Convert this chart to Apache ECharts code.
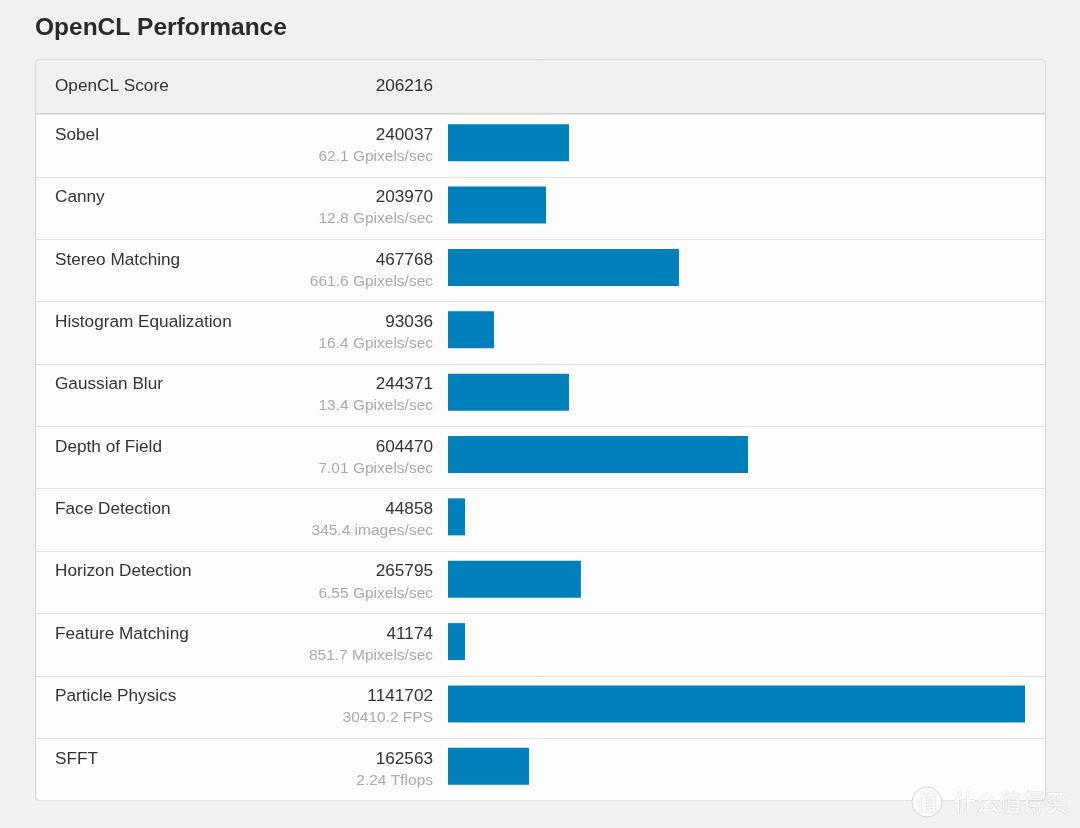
<!DOCTYPE html>
<html>
<head>
<meta charset="utf-8">
<title>OpenCL Performance</title>
<script src="https://cdn.jsdelivr.net/npm/echarts@6/dist/echarts.min.js"></script>
<style>
  html, body { margin: 0; padding: 0; background: #f1f1f1; }
  #chart { width: 1080px; height: 828px; }
</style>
</head>
<body>
<div id="chart"></div>
<script>
const tests = ['Sobel', 'Canny', 'Stereo Matching', 'Histogram Equalization', 'Gaussian Blur', 'Depth of Field',
    'Face Detection', 'Horizon Detection', 'Feature Matching', 'Particle Physics', 'SFFT'];
const scores = ['240037', '203970', '467768', '93036', '244371', '604470', '44858', '265795', '41174', '1141702', '162563'];
const rates = ['62.1 Gpixels/sec', '12.8 Gpixels/sec', '661.6 Gpixels/sec', '16.4 Gpixels/sec', '13.4 Gpixels/sec',
    '7.01 Gpixels/sec', '345.4 images/sec', '6.55 Gpixels/sec', '851.7 Mpixels/sec', '30410.2 FPS', '2.24 Tflops'];
// bar lengths as drawn in the picture, they do not follow the printed scores exactly
const barValues = [239400, 193900, 457000, 91000, 239400, 593600, 33600, 263000, 33600, 1141702, 160300];

const FONT = '"Liberation Sans", Arial, sans-serif';
const chart = echarts.init(document.getElementById('chart'));

chart.setOption({
    backgroundColor: '#f1f1f1',
    animation: false,
    title: {
        text: 'OpenCL Performance',
        left: 35,
        top: 16,
        padding: 0,
        textStyle: { fontFamily: FONT, fontSize: 24.5, fontWeight: 'bold', color: '#2b2b2b' }
    },
    graphic: [
        {
            type: 'rect', z: -10,
            shape: { x: 35.5, y: 59.5, width: 1010, height: 741, r: 4 },
            style: { fill: '#fdfdfd', stroke: '#d6d6d6', lineWidth: 1 }
        },
        {
            type: 'rect', z: -9,
            shape: { x: 36, y: 60, width: 1009, height: 54, r: [4, 4, 0, 0] },
            style: { fill: '#f0f0f0' }
        },
        {
            type: 'line', z: -8,
            shape: { x1: 36, y1: 114, x2: 1045, y2: 114 },
            style: { stroke: '#d4d4d4', lineWidth: 2 }
        },
        {
            type: 'text', z: 5, x: 55, y: 86,
            style: { text: 'OpenCL Score', fontFamily: FONT, fontSize: 17.2, fill: '#333', verticalAlign: 'middle' }
        },
        {
            type: 'text', z: 5, x: 433, y: 86,
            style: { text: '206216', fontFamily: FONT, fontSize: 17.2, fill: '#333', align: 'right', verticalAlign: 'middle' }
        },
        {
            type: 'circle', z: 19,
            shape: { cx: 927, cy: 802, r: 15 },
            style: { fill: 'rgba(255,255,255,0.75)', stroke: '#d4d4d4', lineWidth: 1 }
        },
        {
            type: 'text', z: 20, x: 916, y: 802,
            style: { text: '值', fontFamily: '"Noto Sans CJK SC"', fontSize: 22, fill: '#fff', stroke: '#c4c4c4', lineWidth: 0.5, verticalAlign: 'middle' }
        },
        {
            type: 'text', z: 20, x: 953, y: 802,
            style: { text: '什么值得买', fontFamily: '"Noto Sans CJK SC"', fontSize: 23, fill: 'rgba(255,255,255,0.9)', stroke: '#c4c4c4', lineWidth: 0.5, verticalAlign: 'middle' }
        }
    ],
    grid: [
        // row band of the table, carries the row lines and texts
        { left: 36, top: 114.5, width: 1009, height: 686 },
        // bars, their band sits 3px above the row band
        { left: 448, top: 111.5, width: 577, height: 686 }
    ],
    xAxis: [
        { gridIndex: 0, type: 'value', min: 0, max: 1, show: false },
        { gridIndex: 1, type: 'value', min: 0, max: 1141702, show: false }
    ],
    yAxis: [
        {
            gridIndex: 0, type: 'category', inverse: true, data: tests,
            axisLine: { show: false }, axisTick: { show: false },
            axisLabel: {
                inside: true, align: 'left', margin: 19,
                formatter: value => '{name|' + value + '}\n{name| }',
                rich: {
                    name: { fontFamily: FONT, fontSize: 17.2, color: '#333', lineHeight: 21 }
                }
            },
            splitLine: { show: true, lineStyle: { color: '#e3e3e3', width: 1 } }
        },
        {
            gridIndex: 0, type: 'category', inverse: true, position: 'left', data: scores,
            axisLine: { show: false }, axisTick: { show: false },
            axisLabel: {
                inside: true, align: 'right', margin: 397,
                formatter: (value, index) => '{score|' + value + '}\n{rate|' + rates[index] + '}',
                rich: {
                    score: { fontFamily: FONT, fontSize: 17.2, color: '#333', align: 'right', lineHeight: 22 },
                    rate: { fontFamily: FONT, fontSize: 15.5, color: '#aaa', align: 'right', lineHeight: 21 }
                }
            }
        },
        {
            gridIndex: 1, type: 'category', inverse: true, data: tests,
            axisLine: { show: false }, axisTick: { show: false }, axisLabel: { show: false }
        }
    ],
    series: [
        { type: 'bar', xAxisIndex: 0, yAxisIndex: 0, data: [], silent: true },
        {
            type: 'bar', xAxisIndex: 1, yAxisIndex: 2, data: barValues,
            barWidth: 37, itemStyle: { color: '#0080bb' }
        }
    ]
});
</script>
</body>
</html>
